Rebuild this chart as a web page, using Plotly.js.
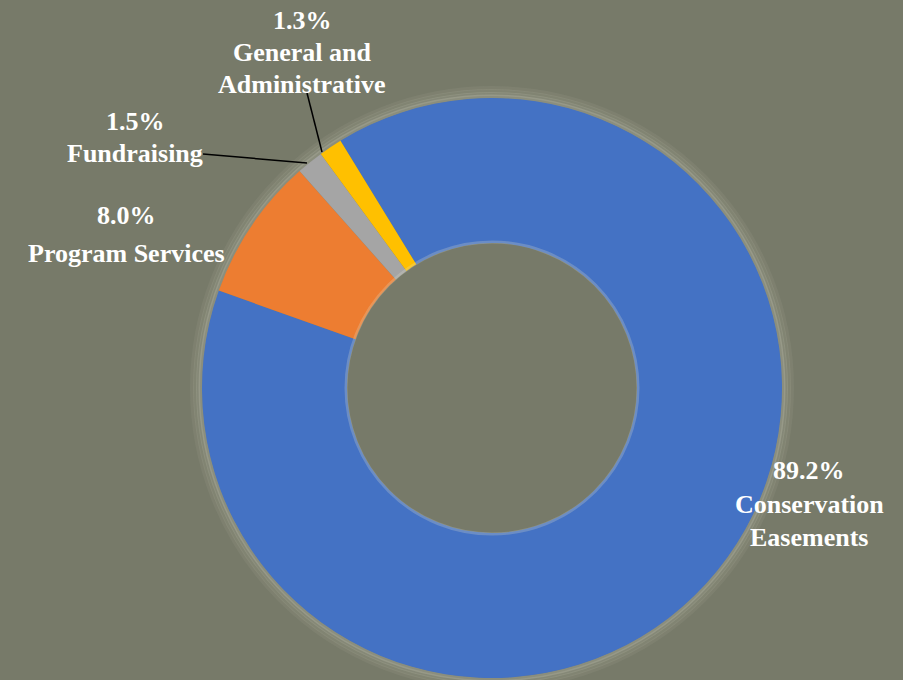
<!DOCTYPE html>
<html>
<head>
<meta charset="utf-8">
<script src="https://cdn.plot.ly/plotly-3.0.1.min.js"></script>
<style>html,body{margin:0;padding:0;background:#777a69;}#chart{width:903px;height:680px;}</style>
</head>
<body>
<div id="chart"></div>
<script>
const categories = ["Conservation Easements", "Program Services", "Fundraising", "General and Administrative"];
const values = [89.2, 8.0, 1.5, 1.3];
const colors = ["#4472C4", "#ED7D31", "#A5A5A5", "#FFC000"];
const labelLines = [
  ["89.2%", "Conservation", "Easements"],
  ["8.0%", "Program Services"],
  ["1.5%", "Fundraising"],
  ["1.3%", "General and", "Administrative"]
];

const W = 903, H = 680, cx = 492, cy = 388, R = 290;
const labelPos = [
  [[809, 470], [809, 504], [809, 537]],
  [[126, 215], [126, 253]],
  [[135, 121], [135, 153]],
  [[302, 20], [302, 52], [302, 84]]
];

const font = {family: "Liberation Serif, Times New Roman, serif", size: 26, color: "#ffffff", weight: "bold"};
const annotations = [];
labelLines.forEach((lines, i) => {
  lines.forEach((t, j) => {
    annotations.push({
      x: labelPos[i][j][0], y: labelPos[i][j][1], xref: "x", yref: "y",
      text: "<b>" + t + "</b>", showarrow: false, font: font,
      xanchor: "center", yanchor: "middle"
    });
  });
});

const shapes = [];
[[300, 0.06], [297, 0.09], [294, 0.13], [291.5, 0.18]].forEach(([r, a]) => {
  shapes.push({type: "circle", xref: "x", yref: "y", x0: cx - r, x1: cx + r, y0: cy - r, y1: cy + r,
    fillcolor: "rgba(0,0,0,0)", line: {width: 4, color: "rgba(235,235,215," + a + ")"}, layer: "below"});
});
shapes.push({type: "circle", xref: "x", yref: "y", x0: cx - 146, x1: cx + 146, y0: cy - 146, y1: cy + 146,
  fillcolor: "rgba(0,0,0,0)", line: {width: 3, color: "rgba(225,225,205,0.25)"}, layer: "above"});
shapes.push({type: "line", xref: "x", yref: "y", x0: 307, y0: 93, x1: 322, y1: 152, line: {color: "#000", width: 1.5}});
shapes.push({type: "line", xref: "x", yref: "y", x0: 203, y0: 154, x1: 307, y1: 163, line: {color: "#000", width: 1.5}});

const data = [{
  type: "pie",
  labels: categories,
  values: values,
  hole: 0.5,
  sort: false,
  direction: "clockwise",
  rotation: -31.5,
  marker: {colors: colors, line: {width: 0}},
  textinfo: "none",
  hoverinfo: "label+percent",
  showlegend: false,
  domain: {x: [(cx - R) / W, (cx + R) / W], y: [(H - cy - R) / H, (H - cy + R) / H]}
}];

const layout = {
  width: W, height: H,
  margin: {l: 0, r: 0, t: 0, b: 0},
  paper_bgcolor: "#777a69",
  plot_bgcolor: "rgba(0,0,0,0)",
  xaxis: {range: [0, W], visible: false, fixedrange: true, domain: [0, 1]},
  yaxis: {range: [H, 0], visible: false, fixedrange: true, domain: [0, 1]},
  annotations: annotations,
  shapes: shapes,
  showlegend: false
};

Plotly.newPlot("chart", data, layout, {displayModeBar: false, staticPlot: true});
</script>
</body>
</html>
